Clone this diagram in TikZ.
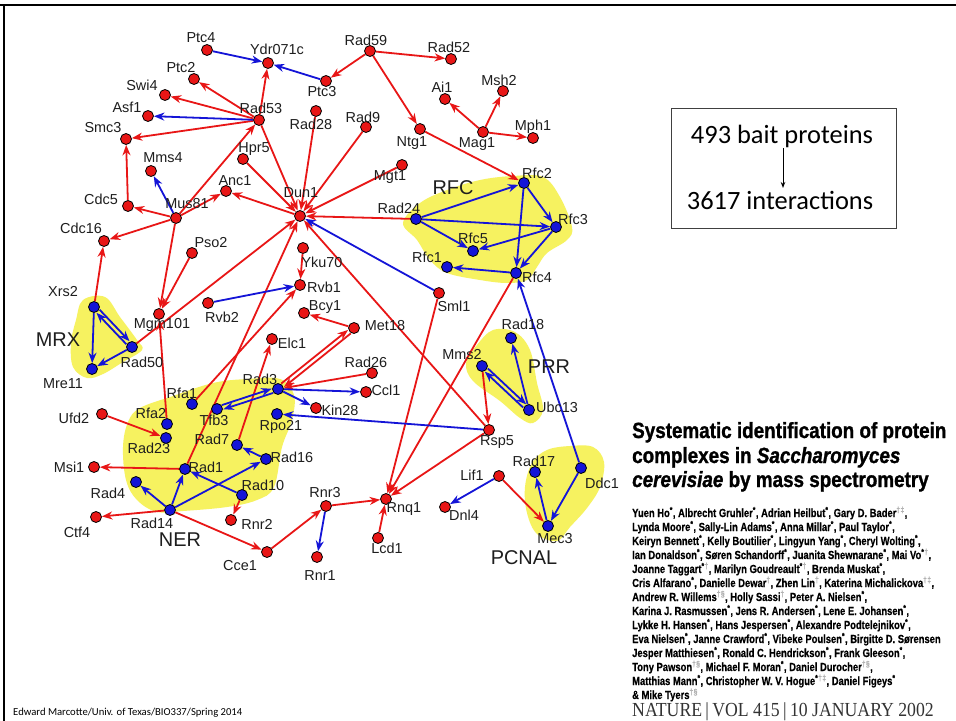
\documentclass[tikz,border=0pt]{standalone}
\usepackage{fontspec}
\setmainfont{Liberation Sans}
\newfontfamily\lblfont{Liberation Sans}
\newfontfamily\titlefont[FakeStretch=0.86,FakeBold=1.2]{Liberation Sans}
\newfontfamily\authfont[FakeStretch=0.8,FakeBold=0.5]{Liberation Sans}
\newfontfamily\natfont[FakeStretch=0.89]{Liberation Serif}
\newfontfamily\calfont{Carlito}
\usetikzlibrary{arrows.meta}
\pgfdeclarelayer{bg}
\pgfdeclarelayer{edges}
\pgfsetlayers{bg,edges,main}
\definecolor{nred}{RGB}{232,22,22}
\definecolor{nblue}{RGB}{20,20,215}
\definecolor{blobyel}{RGB}{246,242,96}
\definecolor{lblgray}{RGB}{30,30,30}
\newcommand{\as}{\textsuperscript{*}}
\newcommand{\dg}{{\color{gray!60}\textsuperscript{†}}}
\newcommand{\ddg}{{\color{gray!60}\textsuperscript{‡}}}
\newcommand{\sect}{{\color{gray!60}\textsuperscript{§}}}
\tikzset{
 rdot/.style={circle, draw=black, line width=0.8bp, fill=nred, minimum size=11bp, inner sep=0pt},
 bdot/.style={circle, draw=black, line width=0.8bp, fill=nblue, minimum size=11bp, inner sep=0pt},
 lbl/.style={font=\lblfont\fontsize{14.5}{16}\selectfont, text=lblgray, inner sep=0pt},
 biglbl/.style={font=\lblfont\fontsize{20}{22}\selectfont, text=lblgray, inner sep=0pt},
 redarr/.style={draw=nred, line width=1.8bp, -{Stealth[length=10.5bp,width=8bp]}},
 bluearr/.style={draw=nblue, line width=1.8bp, -{Stealth[length=10.5bp,width=8bp]}},
 blob/.style={fill=blobyel, draw=none},
 ttl/.style={font=\titlefont\bfseries\fontsize{22}{24}\selectfont, inner sep=0pt, anchor=base west},
 auth/.style={font=\authfont\bfseries\fontsize{11.8}{13}\selectfont, inner sep=0pt, anchor=base west},
}
\begin{document}
\begin{tikzpicture}[x=1bp,y=-1bp]
\useasboundingbox (0,0) rectangle (956,721);
\begin{pgfonlayer}{bg}
\fill[white] (0,0) rectangle (956,721);
\end{pgfonlayer}
\draw[line width=2.5bp] (0,5) -- (956,5);
\draw[line width=2bp] (4,5) -- (4,721);

% ---------- dots ----------
\foreach \n/\x/\y in {Ptc4/207/50, Ydr071c/268/63, Ptc3/326/81, Ptc2/194/79, Swi4/165/95, Asf1/148/116,
 Rad53/259/120, Rad28/316/111, Smc3/126/139, Mms4/151/171, Hpr5/243/159, Anc1/226/191, Cdc5/128/206,
 Mus81/176/218, Dun1/300/216, Rad59/370/51, Rad52/451/59, Ai1/445/99, Msh2/503/91, Rad9/366/127,
 Ntg1/420/129, Mag1/483/132, Mph1/533/138, Mgt1/402/165, Cdc16/104/241, Pso2/192/253, Yku70/303/248,
 Rvb1/300/285, Rvb2/208/303, Mgm101/159/314, Bcy1/304/313, Sml1/439/293, Met18/354/328, Elc1/272/339,
 Rad26/372/373, Ccl1/366/392, Kin28/316/408, Ufd2/102/414, Rsp5/489/430, Msi1/94/467, Lif1/499/476,
 Rnq1/386/499, Rnr3/326/506, Dnl4/445/507, Ctf4/96/517, Rnr2/231/520, Lcd1/378/538, Cce1/267/552, Rnr1/317/557}
 {\node[rdot] (\n) at (\x,\y) {};}
\foreach \n/\x/\y in {Rfc2/524/183, Rad24/416/219, Rfc3/556/227, Rfc5/473/251, Rfc1/447/267, Rfc4/516/273,
 Xrs2/94/307, Rad50/132/347, Mre11/92/369, Rad18/511/338, Mms2/482/366, Ubc13/529/410, Rad3/278/389,
 Rfa1/192/404, Tfb3/217/409, Rpo21/277/414, Rfa2/167/424, Rad23/166/438, Rad7/237/445, Rad16/266/459,
 Rad1/185/469, Rad4/136/482, Rad10/242/495, Rad14/170/510, Rad17/535/472, Ddc1/581/468, Mec3/548/526}
 {\node[bdot] (\n) at (\x,\y) {};}

% ---------- labels ----------
\foreach \n/\t/\x/\y in {Ptc4/Ptc4/201/38, Ydr071c/Ydr071c/277/49, Rad59/Rad59/366/40, Rad52/Rad52/449/47,
 Ptc2/Ptc2/181/68, Ptc3/Ptc3/322/92, Swi4/Swi4/142/85, Ai1/Ai1/442/87, Msh2/Msh2/499/80, Asf1/Asf1/127/107,
 Rad53/Rad53/261/108, Rad28/Rad28/311/124, Rad9/Rad9/363/117, Ntg1/Ntg1/412/143, Mag1/Mag1/477/144,
 Mph1/Mph1/533/127, Smc3/Smc3/103/128, Mms4/Mms4/163/158, Hpr5/Hpr5/254/149, Mgt1/Mgt1/390/177,
 Rfc2/Rfc2/537/173, Anc1/Anc1/235/181, Dun1/Dun1/301/193, Cdc5/Cdc5/101/199, Mus81/Mus81/187/204,
 Rad24/Rad24/399/208, Rfc3/Rfc3/573/219, Cdc16/Cdc16/81/228, Rfc5/Rfc5/473/238, Pso2/Pso2/211/243,
 Rfc1/Rfc1/427/257, Yku70/Yku70/322/262, Rfc4/Rfc4/537/277, Rvb1/Rvb1/324/287, Xrs2/Xrs2/63/292,
 Sml1/Sml1/454/306, Bcy1/Bcy1/325/307, Rvb2/Rvb2/222/317, Mgm101/Mgm101/162/325, Rad18/Rad18/523/324,
 Met18/Met18/385/326, Elc1/Elc1/292/343, Rad50/Rad50/142/362, Mms2/Mms2/462/355, Rad26/Rad26/366/362,
 Rad3/Rad3/260/379, Mre11/Mre11/63/384, Ccl1/Ccl1/386/390, Rfa1/Rfa1/182/393, Ubc13/Ubc13/557/407,
 Kin28/Kin28/340/410, Rfa2/Rfa2/151/413, Ufd2/Ufd2/74/418, Tfb3/Tfb3/214/420, Rpo21/Rpo21/281/427,
 Rad7/Rad7/212/439, Rsp5/Rsp5/497/442, Rad23/Rad23/149/448, Rad16/Rad16/292/457, Rad17/Rad17/534/461,
 Msi1/Msi1/69/467, Rad1/Rad1/206/467, Lif1/Lif1/472/475, Ddc1/Ddc1/602/483, Rad10/Rad10/263/485,
 Rad4/Rad4/108/493, Rnr3/Rnr3/325/493, Rnq1/Rnq1/404/509, Dnl4/Dnl4/464/515, Rad14/Rad14/152/523,
 Rnr2/Rnr2/257/524, Ctf4/Ctf4/77/532, Mec3/Mec3/555/539, Lcd1/Lcd1/387/548, Cce1/Cce1/240/566,
 Rnr1/Rnr1/320/576}
 {\node[lbl] (\n l) at (\x,\y) {\t};}
\node[biglbl] (RFCl) at (453,188) {RFC};
\node[biglbl] (MRXl) at (58,340) {MRX};
\node[biglbl] (PRRl) at (549,367) {PRR};
\node[biglbl] (NERl) at (180,540) {NER};
\node[biglbl] (PCNALl) at (524,558) {PCNAL};

% ---------- complexes ----------
\begin{pgfonlayer}{bg}
\fill[blob] plot[smooth cycle, tension=0.6] coordinates {(403,223) (420,203) (447,190) (480,180) (513,176)
 (543,177) (560,197) (572,227) (567,240) (547,253) (537,267) (527,280) (507,283) (480,280) (447,273) (430,260) (417,240)};
\fill[blob] plot[smooth cycle, tension=0.6] coordinates {(83,300) (105,297) (120,317) (137,340) (142,350)
 (123,362) (103,374) (87,378) (73,367) (71,343) (76,320)};
\fill[blob] plot[smooth cycle, tension=0.6] coordinates {(140,408) (173,396) (213,383) (247,379) (280,379)
 (294,395) (292,420) (282,447) (274,487) (257,500) (227,507) (183,511) (157,512) (137,500) (126,480) (123,447) (128,422)};
\fill[blob] plot[smooth cycle, tension=0.6] coordinates {(493,330) (515,332) (530,350) (537,383) (543,410)
 (533,423) (520,418) (500,401) (473,381) (466,363) (477,345)};
\fill[blob] plot[smooth cycle, tension=0.6] coordinates {(570,446) (593,447) (604,462) (600,487) (587,508)
 (570,527) (557,541) (537,534) (527,513) (525,487) (532,463) (547,450)};
\end{pgfonlayer}

% ---------- edges ----------
\begin{pgfonlayer}{edges}
\foreach \a/\b in {Rad53/Ydr071c, Rad53/Ptc2, Rad53/Swi4, Rad53/Smc3, Rad53/Dun1, Mus81/Rad53,
 Rad59/Ptc3, Rad59/Rad52, Rad59/Ntg1, Ntg1/Rfc2, Mag1/Ai1, Mag1/Msh2, Mag1/Mph1, Rad28/Dun1,
 Rad9/Dun1, Mgt1/Dun1, Hpr5/Dun1, Dun1/Anc1, Mus81/Anc1, Mus81/Cdc5, Cdc5/Smc3, Mus81/Cdc16,
 Mus81/Mgm101, Pso2/Mgm101, Xrs2/Cdc16, Rad50/Dun1, Rad24/Dun1, Rsp5/Dun1, Rad1/Dun1, Rfa1/Rvb1,
 Rfa2/Mgm101, Rad7/Elc1, Met18/Bcy1, Rad26/Rad3, Yku70/Rvb1, Mms2/Rsp5, Lif1/Mec3,
 Rfc4/Rnq1, Sml1/Rnq1, Rsp5/Rnq1, Rnr3/Rnq1, Lcd1/Rnq1, Cce1/Rnr3, Rad14/Cce1, Rad14/Ctf4,
 Rad10/Rnr2, Rad1/Msi1, Ufd2/Rad23}
 {\draw[redarr] (\a) -- (\b);}
\draw[redarr, transform canvas={xshift=1.4bp,yshift=-1.7bp}] (Met18) -- (Rad3);
\draw[redarr, transform canvas={xshift=-1.4bp,yshift=1.7bp}] (Rad3) -- (Met18);
\foreach \a/\b in {Rad53/Asf1, Ptc4/Ydr071c, Ptc3/Ydr071c, Mus81/Mms4, Sml1/Dun1, Rad24/Rfc2,
 Rad24/Rfc3, Rad24/Rfc5, Rfc2/Rfc3, Rfc2/Rfc4, Rfc3/Rfc5, Rfc3/Rfc4, Rfc4/Rfc1, Rvb2/Rvb1,
 Xrs2/Mre11, Rad50/Mre11, Rad3/Ccl1, Rad3/Kin28, Rsp5/Rpo21, Ubc13/Rad18, Ddc1/Rfc4, Ddc1/Mec3,
 Mec3/Rad17, Lif1/Dnl4, Rnr3/Rnr1, Rad14/Rad4, Rad14/Rad1, Rad14/Rad16, Rad10/Rad1, Rad16/Rad7}
 {\draw[bluearr] (\a) -- (\b);}
\draw[bluearr, transform canvas={xshift=0.7bp,yshift=-2.1bp}] (Rad3) -- (Tfb3);
\draw[bluearr, transform canvas={xshift=-0.7bp,yshift=2.1bp}] (Tfb3) -- (Rad3);
\draw[bluearr, transform canvas={xshift=1.6bp,yshift=1.5bp}] (Xrs2) -- (Rad50);
\draw[bluearr, transform canvas={xshift=-1.6bp,yshift=-1.5bp}] (Rad50) -- (Xrs2);
\draw[bluearr, transform canvas={xshift=1.5bp,yshift=1.6bp}] (Mms2) -- (Ubc13);
\draw[bluearr, transform canvas={xshift=-1.5bp,yshift=-1.6bp}] (Ubc13) -- (Mms2);
\end{pgfonlayer}

% ---------- info box ----------
\node[draw=black!75, line width=0.8bp, minimum width=225bp, minimum height=120bp, inner sep=0pt] (box) at (783.5,168) {};
\node[font=\calfont\fontsize{26.5}{30}\selectfont, inner sep=0pt, anchor=base] (bait) at (782,144) {493 bait proteins};
\node[font=\calfont\fontsize{26.5}{30}\selectfont, inner sep=0pt, anchor=base] (inter) at (780,209) {3617 interactions};
\coordinate (arrA) at (783,148);
\coordinate (arrB) at (783,188);
\draw[line width=1bp, -{Stealth[length=6bp,width=4.5bp]}] (arrA) -- (arrB);

% ---------- article ----------
\node[ttl] (t1) at (632,438) {Systematic identification of protein};
\node[ttl] (t2) at (632,463) {complexes in \textit{Saccharomyces}};
\node[ttl] (t3) at (632,487) {\textit{cerevisiae} by mass spectrometry};
\node[auth] (a1) at (632,517) {Yuen Ho\as, Albrecht Gruhler\as, Adrian Heilbut\as, Gary D. Bader\dg\ddg,};
\node[auth] (a2) at (632,531) {Lynda Moore\as, Sally-Lin Adams\as, Anna Millar\as, Paul Taylor\as,};
\node[auth] (a3) at (632,545) {Keiryn Bennett\as, Kelly Boutilier\as, Lingyun Yang\as, Cheryl Wolting\as,};
\node[auth] (a4) at (632,559) {Ian Donaldson\as, Søren Schandorff\as, Juanita Shewnarane\as, Mai Vo\as\dg,};
\node[auth] (a5) at (632,573) {Joanne Taggart\as\dg, Marilyn Goudreault\as\dg, Brenda Muskat\as,};
\node[auth] (a6) at (632,587) {Cris Alfarano\as, Danielle Dewar\dg, Zhen Lin\dg, Katerina Michalickova\dg\ddg,};
\node[auth] (a7) at (632,601) {Andrew R. Willems\dg\sect, Holly Sassi\dg, Peter A. Nielsen\as,};
\node[auth] (a8) at (632,615) {Karina J. Rasmussen\as, Jens R. Andersen\as, Lene E. Johansen\as,};
\node[auth] (a9) at (632,629) {Lykke H. Hansen\as, Hans Jespersen\as, Alexandre Podtelejnikov\as,};
\node[auth] (a10) at (632,643) {Eva Nielsen\as, Janne Crawford\as, Vibeke Poulsen\as, Birgitte D. Sørensen};
\node[auth] (a11) at (632,657) {Jesper Matthiesen\as, Ronald C. Hendrickson\as, Frank Gleeson\as,};
\node[auth] (a12) at (632,671) {Tony Pawson\dg\sect, Michael F. Moran\as, Daniel Durocher\dg\sect,};
\node[auth] (a13) at (632,685) {Matthias Mann\as, Christopher W. V. Hogue\as\dg\ddg, Daniel Figeys\as};
\node[auth] (a14) at (632,699) {\& Mike Tyers\dg\sect};
\node[font=\natfont\fontsize{20}{22}\selectfont, text=black!80, inner sep=0pt, anchor=base west] (nat) at (632,716)
 {NATURE\,|\,VOL 415\,|\,10 JANUARY 2002};
\node[font=\calfont\fontsize{10.7}{12}\selectfont, inner sep=0pt, anchor=base west] (foot) at (13,715)
 {Edward Marcotte/Univ. of Texas/BIO337/Spring 2014};
\end{tikzpicture}
\end{document}
